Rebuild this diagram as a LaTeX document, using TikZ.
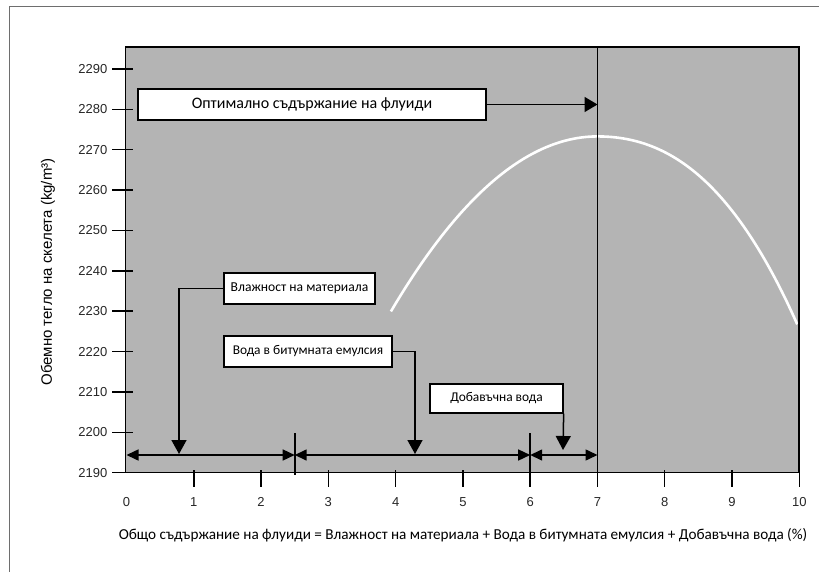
\documentclass[tikz,border=0pt]{standalone}
\usepackage{fontspec}
\setmainfont{Liberation Sans}
\newfontfamily\calfont{Carlito}
\usetikzlibrary{arrows.meta}
\definecolor{plotgray}{HTML}{B4B4B4}
\definecolor{framegray}{HTML}{6E6E6E}
\tikzset{
  box/.style={draw=black, line width=1.3pt, fill=white, inner sep=0pt, font=\calfont\fontsize{13.4}{16}\selectfont},
  conn/.style={line width=1.5pt, draw=black},
  vtip/.style={-{Triangle[length=14pt,width=15pt]}},
  otip/.style={-{Triangle[length=13pt,width=15pt]}},
  htip/.style={{Triangle[length=12pt,width=11pt]}-{Triangle[length=12pt,width=11pt]}},
  ticklbl/.style={font=\fontsize{13}{14}\selectfont, text=black!85, inner sep=0pt},
  tickline/.style={line width=1.5pt, draw=black},
  sepline/.style={line width=1.8pt, draw=black},
  curve/.style={white, line width=2.6pt},
}
\begin{document}
\begin{tikzpicture}[x=1pt,y=-1pt]
\useasboundingbox (0,0) rectangle (819,572);
\draw[framegray, line width=1pt] (9,7) rectangle (840,600);
\fill[plotgray] (125.5,47) rectangle (799,472.7);
% curve (data coordinates: x in %, y in kg/m3 above 2190)
\begin{scope}[shift={(126.5,472.7)}, x=67.28pt, y=4.037pt]
  \draw[curve] plot[domain=3.93:7, samples=40, smooth] (\x, {83.3 - 4.6*(7-\x)^2});
  \draw[curve] plot[domain=7:9.97, samples=40, smooth] (\x, {83.3 - 3.2*(\x-7)^2 - 0.7*(\x-7)^3});
\end{scope}
% plot frame
\draw[line width=1.5pt] (125.5,47) rectangle (799,472.7);
% y ticks and labels
\foreach \k in {0,...,10} {
  \pgfmathsetmacro\yy{472.7-40.37*\k}
  \draw[tickline] (112,\yy) -- (133,\yy);
  \node[ticklbl, anchor=east] (yl\k) at (107.5,\yy) {\the\numexpr2190+10*\k\relax};
}
% x ticks and labels
\foreach \k in {0,...,10} {
  \pgfmathsetmacro\xx{126.5+67.28*\k}
  \ifnum\k>0 \draw[tickline] (\xx,470) -- (\xx,487); \fi
  \node[ticklbl] (xl\k) at (\xx,502) {\k};
}
% separator lines
\coordinate (s7top) at (597.5,47);
\coordinate (s7bot) at (597.5,487);
\coordinate (s6top) at (530.2,433);
\coordinate (s6bot) at (530.2,487);
\coordinate (s25top) at (294.7,433);
\coordinate (s25bot) at (294.7,475);
\draw[sepline] (s7top) -- (s7bot);
\draw[sepline] (s6top) -- (s6bot);
\draw[sepline] (s25top) -- (s25bot);
% double arrows
\coordinate (a0) at (126.5,455);
\coordinate (a25) at (294.7,455);
\coordinate (a6) at (530.2,455);
\coordinate (a7) at (597.5,455);
\draw[conn, htip] (a0) -- (a25);
\draw[conn, htip] (a25) -- (a6);
\draw[conn, htip] (a6) -- (a7);
% boxes
\node[box, minimum width=348pt, minimum height=31pt, font=\calfont\fontsize{16}{18}\selectfont] (opt) at (312,104.5) {Оптимално съдържание на флуиди};
\node[box, minimum width=151pt, minimum height=31pt, font=\calfont\fontsize{13.6}{16}\selectfont] (vl) at (299.5,288.5) {Влажност на материала};
\node[box, minimum width=168pt, minimum height=31pt] (vo) at (308,351.5) {Вода в битумната емулсия};
\node[box, minimum width=133pt, minimum height=29pt] (db) at (496.5,398.5) {Добавъчна вода};
% pointer arrows
\coordinate (optTip) at (597.5,104.5);
\coordinate (vlTip) at (179,454);
\coordinate (voTip) at (415,454);
\coordinate (dbTip) at (563,450);
\draw[conn, otip] (opt.east) -- (optTip);
\draw[conn, vtip] (vl.west) -| (vlTip);
\draw[conn, vtip] (vo.east) -| (voTip);
\draw[conn, vtip] (db.south east) -- (dbTip);
% axis titles
\node[rotate=90, font=\fontsize{15}{17}\selectfont, inner sep=0pt] (ylab) at (48,272) {Обемно тегло на скелета (kg/m³)};
\node[font=\calfont\fontsize{15.2}{17}\selectfont, inner sep=0pt] (xlab) at (463,535) {Общо съдържание на флуиди = Влажност на материала + Вода в битумната емулсия + Добавъчна вода (\%)};
\end{tikzpicture}
\end{document}
